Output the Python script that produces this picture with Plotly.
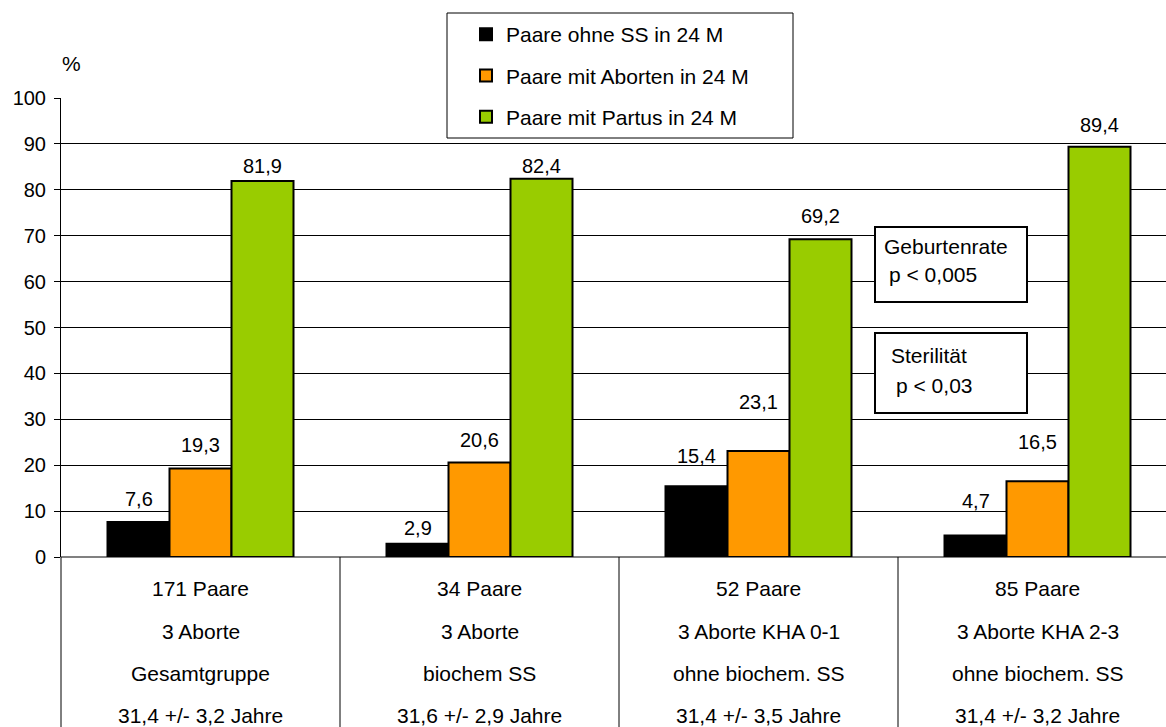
import plotly.graph_objects as go

# ---- data ----
categories = ["171 Paare", "34 Paare", "52 Paare", "85 Paare"]
category_lines = [
    ["171 Paare", "3 Aborte", "Gesamtgruppe", "31,4 +/- 3,2 Jahre"],
    ["34 Paare", "3 Aborte", "biochem SS", "31,6 +/- 2,9 Jahre"],
    ["52 Paare", "3 Aborte KHA 0-1", "ohne biochem. SS", "31,4 +/- 3,5 Jahre"],
    ["85 Paare", "3 Aborte KHA 2-3", "ohne biochem. SS", "31,4 +/- 3,2 Jahre"],
]
series_names = ["Paare ohne SS in 24 M", "Paare mit Aborten in 24 M", "Paare mit Partus in 24 M"]
ohne_ss = [7.6, 2.9, 15.4, 4.7]
aborte = [19.3, 20.6, 23.1, 16.5]
partus = [81.9, 82.4, 69.2, 89.4]
series_values = [ohne_ss, aborte, partus]
y_ticks = [0, 10, 20, 30, 40, 50, 60, 70, 80, 90, 100]

# ---- style ----
colors = ["#000000", "#FF9900", "#99CC00"]
label_shift = [  # pixel offset of value label centre above bar top
    [23, 16, 30, 34],
    [23, 22, 49, 39],
    [15, 13, 23, 22],
]
FONT = "Liberation Sans, Arial, sans-serif"
W, H = 1166, 727
ML, MR, MT, MB = 61, 0, 98, 170
PW, PH = W - ML - MR, H - MT - MB
GROUP_PX = 279.0
x_range = [-0.5, -0.5 + PW / GROUP_PX]
bargap = 1 / 3
bar_w = (1 - bargap) / 3


def px_x(px):
    return (px - ML) / PW


def px_y(py):
    return (H - MB - py) / PH


fig = go.Figure()
x_idx = list(range(len(categories)))
for k, (name, vals) in enumerate(zip(series_names, series_values)):
    fig.add_trace(go.Bar(
        x=x_idx, y=vals, name=name,
        marker=dict(color=colors[k], line=dict(color="black", width=2)),
        legendgroup=f"g{k}", hoverinfo="skip",
    ))
    for i, v in enumerate(vals):
        fig.add_annotation(
            x=i + (k - 1) * bar_w, y=v, xref="x", yref="y",
            text=f"{v:.1f}".replace(".", ","), showarrow=False,
            yanchor="middle", xanchor="center", yshift=label_shift[k][i],
            font=dict(family=FONT, size=20, color="black"),
        )

# category table text
line_offsets = [31, 74, 116, 158]
for i, lines in enumerate(category_lines):
    for j, t in enumerate(lines):
        fig.add_annotation(
            x=i, y=0, xref="x", yref="paper", text=t, showarrow=False,
            yanchor="middle", xanchor="center", yshift=-line_offsets[j],
            font=dict(family=FONT, size=21, color="black"),
        )

shapes = []
# table separators
for xs in [0.5, 1.5, 2.5]:
    shapes.append(dict(type="line", xref="x", yref="paper", x0=xs, x1=xs,
                       y0=0, y1=-MB / PH, line=dict(color="black", width=1)))
shapes.append(dict(type="line", xref="paper", yref="paper", x0=0, x1=0,
                   y0=0, y1=-MB / PH, line=dict(color="black", width=1)))
# legend frame
shapes.append(dict(type="rect", xref="paper", yref="paper",
                   x0=px_x(447), x1=px_x(793), y0=px_y(138), y1=px_y(13),
                   line=dict(color="black", width=1), fillcolor="white", layer="above"))
# stat boxes
shapes.append(dict(type="rect", xref="paper", yref="paper",
                   x0=px_x(875), x1=px_x(1027), y0=px_y(302), y1=px_y(227),
                   line=dict(color="black", width=2), fillcolor="white", layer="above"))
shapes.append(dict(type="rect", xref="paper", yref="paper",
                   x0=px_x(875), x1=px_x(1027), y0=px_y(413), y1=px_y(333),
                   line=dict(color="black", width=2), fillcolor="white", layer="above"))

box_texts = [("Geburtenrate", 882, 246), ("p < 0,005", 887, 274),
             ("Sterilität", 889, 355), ("p < 0,03", 894, 385)]
for t, bx, by in box_texts:
    fig.add_annotation(x=px_x(bx), y=px_y(by), xref="paper", yref="paper", text=t,
                       showarrow=False, xanchor="left", yanchor="middle",
                       font=dict(family=FONT, size=21, color="black"))

fig.add_annotation(x=px_x(71), y=px_y(64), xref="paper", yref="paper", text="%",
                   showarrow=False, xanchor="center", yanchor="middle",
                   font=dict(family=FONT, size=21, color="black"))

fig.update_layout(
    width=W, height=H, autosize=False,
    margin=dict(l=ML, r=MR, t=MT, b=MB, pad=0, autoexpand=False),
    paper_bgcolor="white", plot_bgcolor="white",
    barmode="group", bargap=bargap, bargroupgap=0,
    shapes=shapes,
    font=dict(family=FONT, size=21, color="black"),
    legend=dict(x=px_x(466), y=px_y(14), xanchor="left", yanchor="top",
                bgcolor="rgba(0,0,0,0)", borderwidth=0, tracegroupgap=11,
                font=dict(family=FONT, size=21, color="black"),
                traceorder="grouped"),
    xaxis=dict(range=x_range, showticklabels=False, showgrid=False, zeroline=False,
               showline=False, ticks="", automargin=False),
    yaxis=dict(range=[0, 100], tickvals=y_ticks, showgrid=True, gridcolor="black",
               gridwidth=1, zeroline=True, zerolinecolor="#808080", zerolinewidth=1.5,
               showline=True, linecolor="black", linewidth=1, ticks="outside",
               ticklen=6, tickcolor="black", ticklabelstandoff=4, automargin=False,
               tickfont=dict(family=FONT, size=20, color="black")),
)

fig.write_html("out.html", config={"displayModeBar": False},
               post_script="document.body.style.margin='0';document.body.style.overflow='hidden';")
